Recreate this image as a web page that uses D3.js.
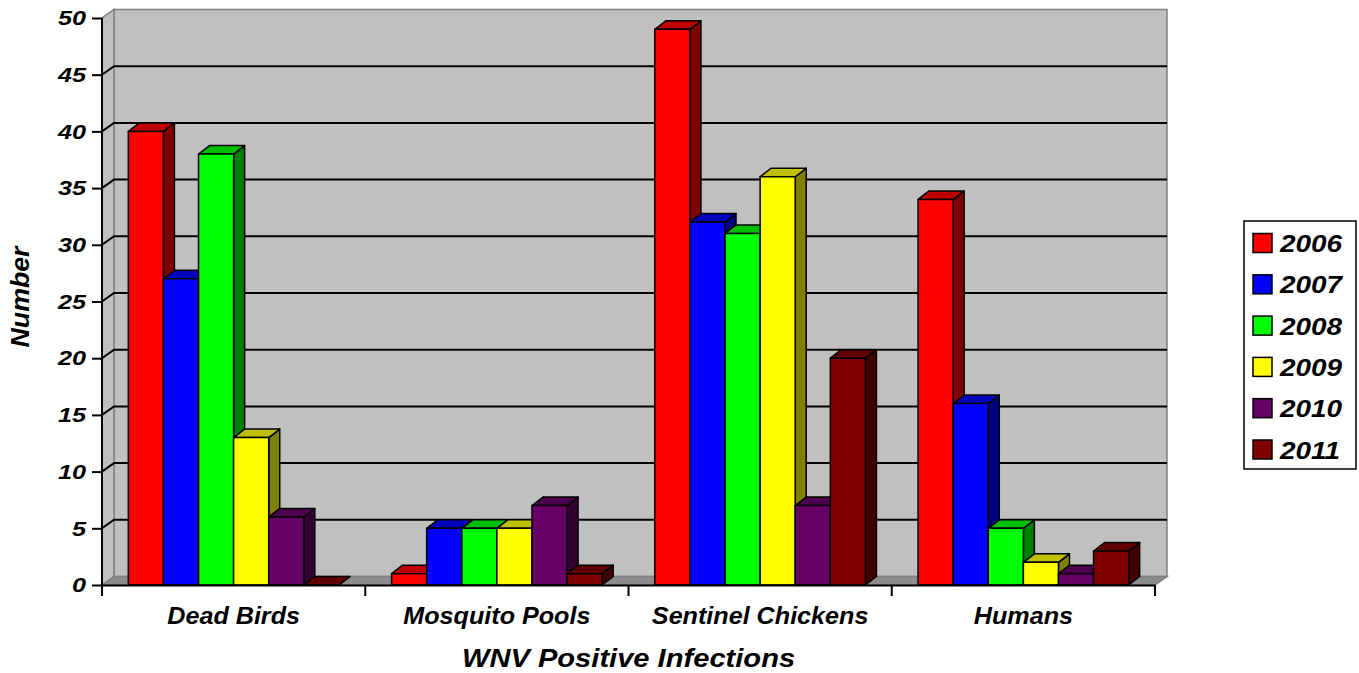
<!DOCTYPE html>
<html><head><meta charset="utf-8">
<script src="https://cdn.jsdelivr.net/npm/d3@7"></script>
<style>body{margin:0;background:#fff}svg{display:block}text{font-family:"Liberation Sans",Arial,sans-serif;font-weight:bold;font-style:italic}</style>
</head><body>
<script>
const categories = ["Dead Birds","Mosquito Pools","Sentinel Chickens","Humans"];
const years = ["2006","2007","2008","2009","2010","2011"];
const v2006 = [40, 1, 49, 34];
const v2007 = [27, 5, 32, 16];
const v2008 = [38, 5, 31, 5];
const v2009 = [13, 5, 36, 2];
const v2010 = [6, 7, 7, 1];
const v2011 = [0, 1, 20, 3];
const colors = ["#ff0000","#0000ff","#00ff00","#ffff00","#660066","#800000"];
const yTicks = [0,5,10,15,20,25,30,35,40,45,50];
const series = [v2006,v2007,v2008,v2009,v2010,v2011];

const W=1359,H=673;
const svg=d3.select("body").append("svg").attr("width",W).attr("height",H);
const x0=d3.scaleBand().domain(categories).range([102,1155]).paddingInner(0).paddingOuter(0);
const x1=d3.scaleBand().domain(years).range([0,x0.bandwidth()]).paddingInner(0).paddingOuter(0.75);
const y=d3.scaleLinear().domain([0,50]).range([585,18]);
const DX=12, DY=-8.5;   // wall depth
const BX=11, BY=-8.5;   // bar depth
const left=x0.range()[0], right=x0.range()[1];

// back wall
svg.append("rect").attr("x",left+DX).attr("y",y(50)+DY).attr("width",right-left).attr("height",y(0)-y(50))
  .attr("fill","#c0c0c0").attr("stroke","#808080").attr("stroke-width",1.5);
// left side wall
svg.append("path").attr("d",`M${left},${y(0)}L${left},${y(50)}L${left+DX},${y(50)+DY}L${left+DX},${y(0)+DY}Z`)
  .attr("fill","#c0c0c0").attr("stroke","#808080").attr("stroke-width",1.5);
// floor
svg.append("path").attr("d",`M${left},${y(0)}L${right},${y(0)}L${right+DX},${y(0)+DY}L${left+DX},${y(0)+DY}Z`)
  .attr("fill","#8c8c8c").attr("stroke","#808080").attr("stroke-width",1.5);
// gridlines
yTicks.filter(t=>t>0&&t<50).forEach(t=>{
  svg.append("path").attr("d",`M${left},${y(t)}L${left+DX},${y(t)+DY}L${right+DX},${y(t)+DY}`)
    .attr("fill","none").attr("stroke","#000").attr("stroke-width",2);
});

// bars
function shade(c,k){const o=d3.rgb(c);return d3.rgb(o.r*k,o.g*k,o.b*k).toString();}
categories.forEach((cat,ci)=>{
  years.forEach((yr,si)=>{
    const v=series[si][ci];
    const xl=x0(cat)+x1(yr), xr=xl+x1.bandwidth(), yt=y(v), yb=y(0);
    const g=svg.append("g").attr("stroke","#000").attr("stroke-width",1.5).attr("stroke-linejoin","round");
    g.append("path").attr("d",`M${xr},${yb}L${xr},${yt}L${xr+BX},${yt+BY}L${xr+BX},${yb+BY}Z`).attr("fill",shade(colors[si],0.5));
    g.append("path").attr("d",`M${xl},${yt}L${xl+BX},${yt+BY}L${xr+BX},${yt+BY}L${xr},${yt}Z`).attr("fill",shade(colors[si],0.75));
    if(v>0) g.append("rect").attr("x",xl).attr("y",yt).attr("width",xr-xl).attr("height",yb-yt).attr("fill",colors[si]);
  });
});

// y axis
const ya=svg.append("g").attr("transform",`translate(${left},0)`)
  .call(d3.axisLeft(y).tickValues(yTicks).tickSize(10).tickPadding(6).tickFormat(d3.format("d")));
ya.select(".domain").attr("stroke","#000").attr("stroke-width",2).attr("d",`M0,${y(50)}V${y(0)}`);
ya.selectAll(".tick line").attr("stroke","#000").attr("stroke-width",2);
ya.selectAll(".tick text").attr("x",0).attr("transform","translate(-16,0) scale(1.2,1)")
  .attr("font-size",21).attr("fill","#000").attr("font-family","Liberation Sans, Arial").attr("font-weight","bold").attr("font-style","italic");

// x axis
const xa=svg.append("g").attr("transform",`translate(0,${y(0)})`)
  .call(d3.axisBottom(x0).tickSize(0).tickPadding(22));
xa.select(".domain").attr("stroke","#000").attr("stroke-width",2);
xa.selectAll(".tick text").attr("transform","scale(1.07,1)").attr("font-size",23.5).attr("fill","#000").attr("font-family","Liberation Sans, Arial").attr("font-weight","bold").attr("font-style","italic");
const bounds=categories.map(c=>x0(c)).concat([right]);
bounds.forEach(b=>svg.append("line").attr("x1",b).attr("x2",b).attr("y1",y(0)).attr("y2",y(0)+11).attr("stroke","#000").attr("stroke-width",2));

// titles
svg.append("text").attr("transform",`translate(${(left+right)/2},667) scale(1.12,1)`).attr("text-anchor","middle").attr("font-size",26).text("WNV Positive Infections");
svg.append("text").attr("transform","translate(29,297) rotate(-90) scale(1.07,1)").attr("text-anchor","middle").attr("font-size",25).text("Number");

// legend
const lg=svg.append("g");
lg.append("rect").attr("x",1244).attr("y",221).attr("width",112).attr("height",248).attr("fill","#fff").attr("stroke","#000").attr("stroke-width",1.5);
years.forEach((yr,i)=>{
  const cy=243+i*41.3;
  lg.append("rect").attr("x",1253).attr("y",cy-9.5).attr("width",19).attr("height",19).attr("fill",colors[i]).attr("stroke","#000").attr("stroke-width",1.5);
  lg.append("text").attr("transform",`translate(1280,${cy+9}) scale(1.14,1)`).attr("font-size",24.5).text(yr);
});
</script>
</body></html>
